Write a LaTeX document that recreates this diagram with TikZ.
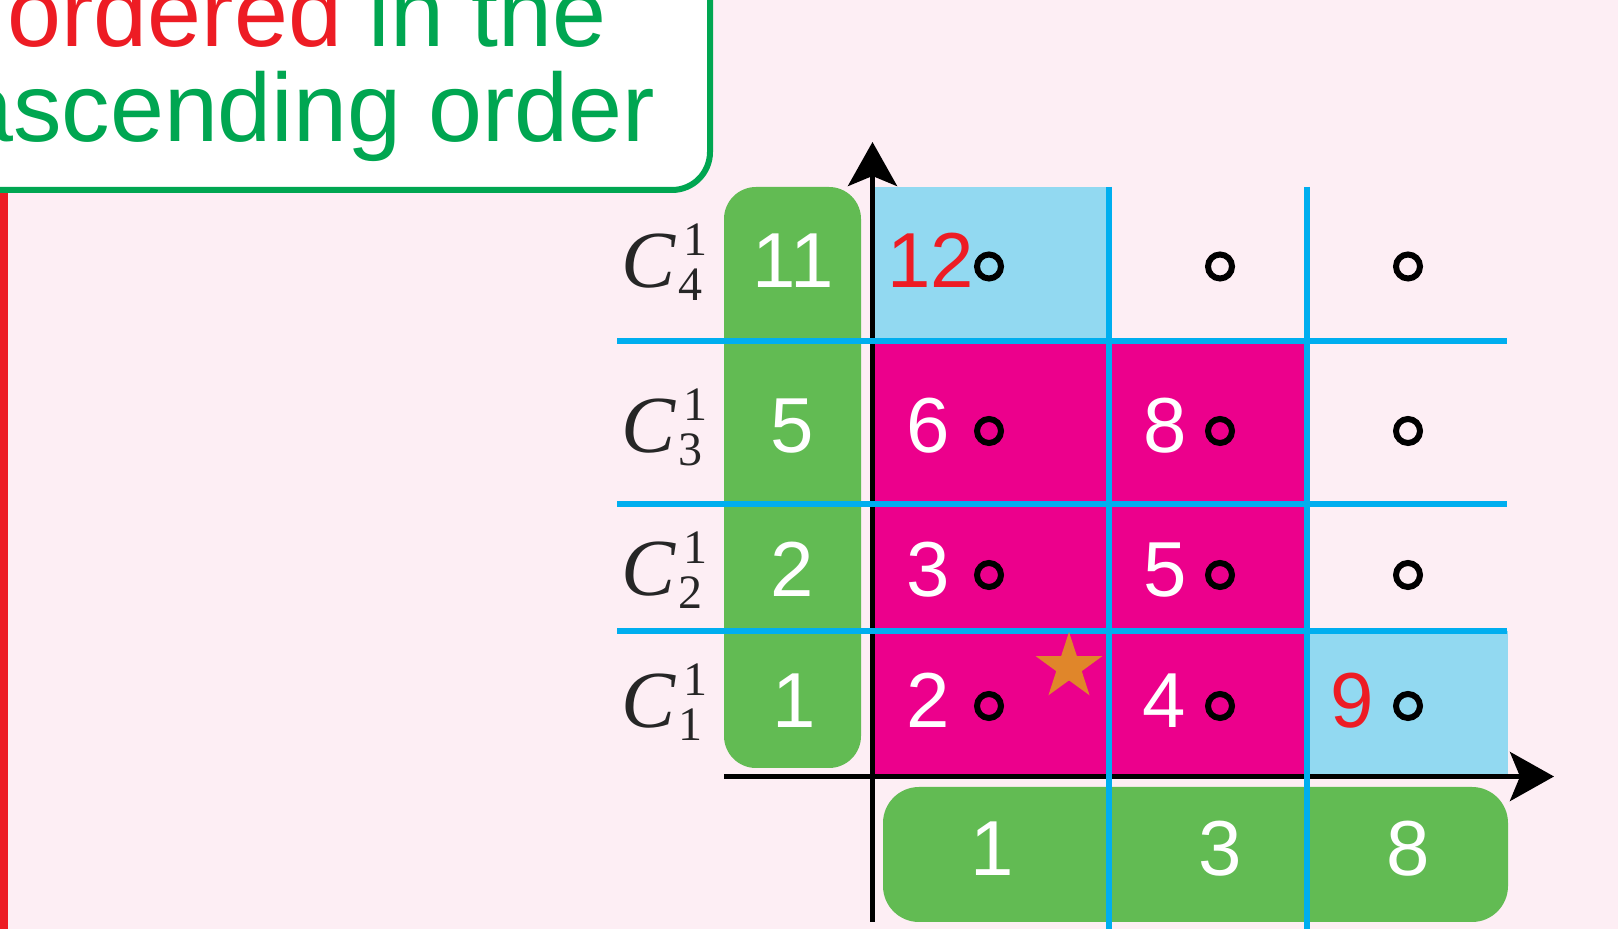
\documentclass[tikz,border=0pt]{standalone}
\usepackage{fontspec}
\setmainfont{Liberation Sans}
\newfontfamily\serif{Liberation Serif}
\usetikzlibrary{arrows.meta}
\definecolor{bg}{HTML}{FDEEF4}
\definecolor{myred}{HTML}{ED1C24}
\definecolor{mygreen}{HTML}{00A651}
\definecolor{boxgreen}{HTML}{62BB53}
\definecolor{magentac}{HTML}{EC008C}
\definecolor{lightbluec}{HTML}{92D9F1}
\definecolor{gridblue}{HTML}{00AEEF}
\definecolor{starc}{HTML}{E0862A}
\newcommand{\clab}[1]{{\serif\fontsize{40.5pt}{41pt}\selectfont\itshape C}\kern1.5pt\rlap{\kern2.5pt\raisebox{16pt}{\serif\fontsize{24pt}{24pt}\selectfont 1}}\raisebox{-6.5pt}{\serif\fontsize{24pt}{24pt}\selectfont #1}}
\begin{document}
\begin{tikzpicture}[x=0.5pt,y=-0.5pt,
  digit/.style={font=\fontsize{39pt}{39pt}\selectfont, text=white, inner sep=0pt, anchor=base},
  reddigit/.style={digit, text=myred},
  clabel/.style={anchor=base west, inner sep=0pt, text=black!85},
  ringmark/.style={circle, draw=black, line width=3pt, minimum size=12pt, inner sep=0pt},
  gridline/.style={gridblue, line width=3pt},
  axisline/.style={line width=2.5pt, -{Stealth[length=22pt,width=24.5pt,inset=5pt]}},
  greenbox/.style={fill=boxgreen},
  titletext/.style={font=\fontsize{48.5pt}{48.5pt}\selectfont, text=mygreen, inner sep=0pt, anchor=base}]
\useasboundingbox (0,0) rectangle (1618,929);
\fill[bg] (0,0) rectangle (1618,929);
\clip (0,0) rectangle (1618,929);
% left red bar
\fill[myred] (0,185) rectangle (8,929);
% title box
\draw[mygreen, line width=3pt, fill=white, rounded corners=19pt] (-60,-60) rectangle (710,190);
\node[titletext] (t1) at (307,47) {\textcolor{myred}{ordered} in the};
\node[titletext] (t2) at (307,142) {ascending order};
% cells
\fill[magentac] (872,341) rectangle (1307,776);
\fill[lightbluec] (872,187) rectangle (1108,341);
\fill[lightbluec] (1307,631) rectangle (1508,776);
% green boxes
\fill[greenbox, rounded corners=16pt] (724,187) rectangle (861,768);
\fill[greenbox, rounded corners=18pt] (883,787) rectangle (1508,922);
% axes
\coordinate (xo) at (724,776.5);
\coordinate (xe) at (1554,776.5);
\coordinate (yo) at (872.5,922);
\coordinate (ye) at (872.5,142);
\draw[axisline] (xo) -- (xe);
\draw[axisline] (yo) -- (ye);
% grid lines
\coordinate (h1a) at (617,341); \coordinate (h1b) at (1507,341);
\coordinate (h2a) at (617,504); \coordinate (h2b) at (1507,504);
\coordinate (h3a) at (617,631); \coordinate (h3b) at (1507,631);
\coordinate (v1a) at (1108.5,187); \coordinate (v1b) at (1108.5,929);
\coordinate (v2a) at (1307,187); \coordinate (v2b) at (1307,929);
\draw[gridline] (h1a) -- (h1b);
\draw[gridline] (h2a) -- (h2b);
\draw[gridline] (h3a) -- (h3b);
\draw[gridline] (v1a) -- (v1b);
\draw[gridline] (v2a) -- (v2b);
% star
\fill[starc, shift={(1069,667)}] (-90:35) -- (-54:13.4) -- (-18:35) -- (18:13.4) -- (54:35) -- (90:13.4) -- (126:35) -- (162:13.4) -- (198:35) -- (234:13.4) -- cycle;
% row labels
\node[clabel] (c4) at (621,288) {\clab{4}};
\node[clabel] (c3) at (621,453) {\clab{3}};
\node[clabel] (c2) at (621,596) {\clab{2}};
\node[clabel] (c1) at (621,728) {\clab{1}};
% left column numbers
\node[digit] (l4) at (793,288) {11};
\node[digit] (l3) at (792,453) {5};
\node[digit] (l2) at (792,597) {2};
\node[digit] (l1) at (794,728) {1};
% bottom numbers
\node[digit] (b1) at (992,876) {1};
\node[digit] (b2) at (1220,876) {3};
\node[digit] (b3) at (1408,876) {8};
% cell numbers
\node[reddigit] (n41) at (931,288) {12};
\node[digit] (n31) at (928,453) {6};
\node[digit] (n32) at (1165,453) {8};
\node[digit] (n21) at (928,597) {3};
\node[digit] (n22) at (1165,597) {5};
\node[digit] (n11) at (928,728) {2};
\node[digit] (n12) at (1164,728) {4};
\node[reddigit] (n13) at (1352,728) {9};
% circles
\node[ringmark] (r41) at (989,266.5) {};
\node[ringmark] (r42) at (1220,266.5) {};
\node[ringmark] (r43) at (1408,266.5) {};
\node[ringmark] (r31) at (989,431) {};
\node[ringmark] (r32) at (1220,431) {};
\node[ringmark] (r33) at (1408,431) {};
\node[ringmark] (r21) at (989,575) {};
\node[ringmark] (r22) at (1220,575) {};
\node[ringmark] (r23) at (1408,575) {};
\node[ringmark] (r11) at (989,706) {};
\node[ringmark] (r12) at (1220,706) {};
\node[ringmark] (r13) at (1408,706) {};
\end{tikzpicture}
\end{document}
